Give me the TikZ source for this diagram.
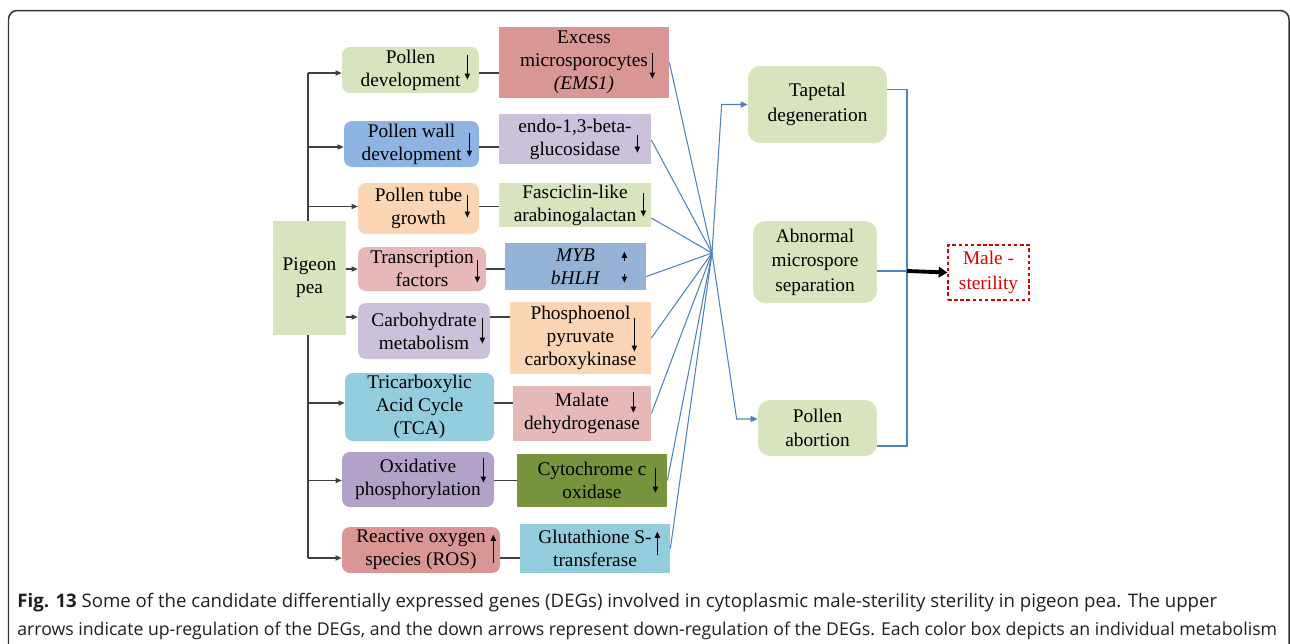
\documentclass[tikz,border=0pt]{standalone}
\usepackage{fontspec}
\setmainfont{Liberation Serif}
\newfontfamily\capfont{Open Sans}
\usetikzlibrary{arrows.meta}
\definecolor{cgreen}{HTML}{D7E4BD}
\definecolor{cblue}{HTML}{8EB4E3}
\definecolor{cmyb}{HTML}{95B3D7}
\definecolor{cpeach}{HTML}{FCD5B5}
\definecolor{cpink}{HTML}{E6B9B8}
\definecolor{clav}{HTML}{CCC1DA}
\definecolor{cteal}{HTML}{93CDDD}
\definecolor{cpurple}{HTML}{B3A2C7}
\definecolor{crose}{HTML}{D99694}
\definecolor{colive}{HTML}{77933C}
\definecolor{lineblue}{HTML}{4F81BD}
\definecolor{linegray}{HTML}{404040}
\definecolor{msred}{HTML}{DD0000}

\begin{document}
\begin{tikzpicture}[x=0.02cm,y=-0.02cm,
  every node/.style={font=\fontsize{11}{13}\selectfont, align=center, inner sep=0pt},
  sz/.style 2 args={minimum width=#1*0.02cm, minimum height=#2*0.02cm},
  pathbox/.style={rounded corners=4.5pt, fill=#1},
  genebox/.style={fill=#1},
  effbox/.style={rounded corners=7pt, fill=cgreen, font=\fontsize{11}{14}\selectfont},
  link/.style={draw=linegray, line width=0.6pt},
  feed/.style={link, -{Triangle[length=3.5pt,width=3pt]}},
  blueln/.style={draw=lineblue, line width=0.6pt},
  reg/.style={line width=0.7pt, -{Triangle[length=3.5pt,width=3pt]}},
  captext/.style={anchor=base west, font=\capfont\fontsize{10.5}{12}\selectfont, text=black!88}]
\useasboundingbox (0,0) rectangle (1290,643);
% frame
\draw[draw=black!80, line width=0.85pt, rounded corners=5pt] (8.5,10.5) rectangle (1289,700);

% source
\node[genebox=cgreen, sz={73}{114}] (pig) at (309.5,278) {Pigeon\\pea};

% pathways
\node[pathbox=cgreen,  sz={137}{46}] (l1) at (410.5,70)  {Pollen\\development};
\node[pathbox=cblue,   sz={135}{46}] (l2) at (411.5,144) {Pollen wall\\development};
\node[pathbox=cpeach,  sz={121}{51}] (l3) at (418.5,208.5) {Pollen tube\\growth};
\node[pathbox=cpink,   sz={128}{44}] (l4) at (422,269)   {Transcription\\factors};
\node[pathbox=clav,    sz={132}{56}] (l5) at (424,331)   {Carbohydrate\\metabolism};
\node[pathbox=cteal,   sz={149}{68}] (l6) at (419.5,407) {Tricarboxylic\\Acid Cycle\\(TCA)};
\node[pathbox=cpurple, sz={152}{55}] (l7) at (418,479.5) {Oxidative\\phosphorylation};
\node[pathbox=crose,   sz={158}{46}] (l8) at (421,550)   {Reactive oxygen\\species (ROS)};

% genes
\node[genebox=crose,  sz={170}{71}] (m1) at (584,62.5)  {Excess\\microsporocytes\\\textit{(EMS1)}};
\node[genebox=clav,   sz={152}{50}] (m2) at (575,139)   {endo-1,3-beta-\\glucosidase};
\node[genebox=cgreen, sz={152}{44}] (m3) at (575,205)   {Fasciclin-like\\arabinogalactan};
\node[genebox=cmyb,   sz={141}{47}] (m4) at (575.5,266.5) {\textit{MYB}\\\textit{bHLH}};
\node[genebox=cpeach, sz={141}{72}] (m5) at (580.5,338) {Phosphoenol\\pyruvate\\carboxykinase};
\node[genebox=cpink,  sz={138}{55}] (m6) at (582,413.5) {Malate\\dehydrogenase};
\node[genebox=colive, sz={150}{53}] (m7) at (592,480.5) {Cytochrome c\\oxidase};
\node[genebox=cteal,  sz={150}{49}] (m8) at (595,548.5) {Glutathione S-\\transferase};

% effects
\node[effbox, sz={139}{77}] (tap) at (817.5,104.5) {Tapetal\\degeneration};
\node[effbox, sz={124}{82}] (abn) at (815,262)     {Abnormal\\microspore\\separation};
\node[effbox, sz={119}{56}] (abo) at (817.5,428)   {Pollen\\abortion};
\node[draw=msred, line width=0.6pt, dash pattern=on 2pt off 1.5pt, text=msred,
  font=\fontsize{11}{14}\selectfont, sz={81}{55}] (male) at (988.5,272.5) {Male -\\sterility};

% up / down regulation
\foreach \n/\dx/\dy/\len in {l1/-12/8/25, l2/-10/12/24, l3/-12/12/23, l4/-9/13/23,
    l5/-8/15/26, l7/-11/6/25, l8/-7/36/-28, m1/-17/26/26, m2/-14/21/18,
    m3/-8/10/24, m4/-22/18/-9, m4/-22/31/9, m5/-17/16/34, m6/-18/6/21,
    m7/-12/14/25, m8/-13/31/-23}
  \draw[reg] ([shift={(\dx,\dy)}]\n.north east) -- ++(0,\len);

% pigeon pea to pathways
\coordinate (tr) at (308,0);
\foreach \i/\dy in {1/3, 2/3, 3/-2, 4/0, 5/-14, 6/-4, 7/1, 8/8}
  \coordinate (s\i) at ([shift={(0,\dy)}]l\i.west);
\draw[link] (s1 -| tr) -- (pig.north -| tr);
\draw[link] (pig.south -| tr) -- (s8 -| tr);
\foreach \i in {1,2,3,6,7,8}
  \draw[feed] (s\i -| tr) -- (s\i);
\draw[feed] (pig.east |- s4) -- (s4);
\draw[feed] (pig.east |- s5) -- (s5);

% pathways to genes
\foreach \i in {1,...,8}
  \draw[link] (s\i -| l\i.east) -- (s\i -| m\i.west);

% genes to hub
\coordinate (hub) at (712,253);
\foreach \n/\dy in {m1/0, m2/1, m3/13, m4/10, m5/0, m6/0, m7/0, m8/0}
  \draw[blueln] ([shift={(0,\dy)}]\n.east) -- (hub);
\draw[blueln, -{Triangle[length=4pt,width=3.5pt]}] (hub) -- ([shift={(-26,0)}]tap.west) -- (tap.west);
\draw[blueln, -{Triangle[length=4pt,width=3.5pt]}] (hub) -- ([shift={(-21,-9)}]abo.west) -- ([shift={(0,-9)}]abo.west);

% effects to male sterility
\coordinate (jn) at (907,271);
\draw[blueln] ([shift={(0,-15)}]tap.east) -| (jn) |- ([shift={(0,18)}]abo.east);
\draw[blueln] ([shift={(0,9)}]abn.east) -- (jn);
\draw[line width=2.2pt, -{Triangle[length=5pt,width=6pt]}] (jn) -- (male.west);

% caption
\node[captext] (cap1) at (17,607)
  {\resizebox{24cm}{!}{\textbf{Fig. 13} Some of the candidate differentially expressed genes (DEGs) involved in cytoplasmic male-sterility sterility in pigeon pea. The upper}};
\node[captext] (cap2) at (17,635)
  {\resizebox{25.2cm}{!}{arrows indicate up-regulation of the DEGs, and the down arrows represent down-regulation of the DEGs. Each color box depicts an individual metabolism}};
\end{tikzpicture}
\end{document}
